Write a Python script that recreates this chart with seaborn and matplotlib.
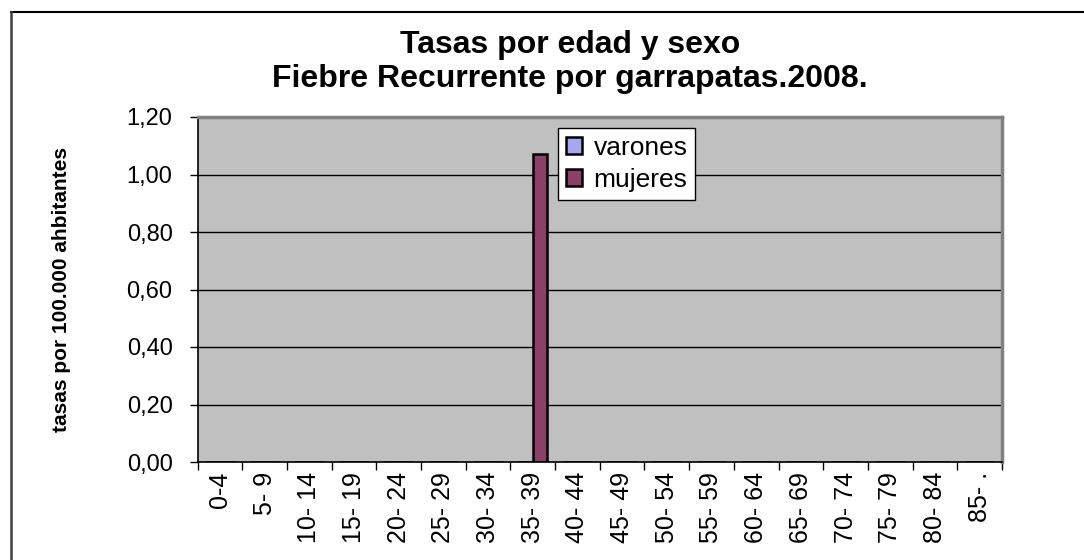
import matplotlib
matplotlib.use("Agg")
import matplotlib.pyplot as plt
from matplotlib.lines import Line2D
from matplotlib.ticker import FuncFormatter, FixedLocator
import pandas as pd
import seaborn as sns

# Datos
grupos_edad = ["0-4", "5- 9", "10- 14", "15- 19", "20- 24", "25- 29", "30- 34",
               "35- 39", "40- 44", "45- 49", "50- 54", "55- 59", "60- 64",
               "65- 69", "70- 74", "75- 79", "80- 84", "85- ."]
tasas_varones = [0, 0, 0, 0, 0, 0, 0, 0, 0, 0, 0, 0, 0, 0, 0, 0, 0, 0]
tasas_mujeres = [0, 0, 0, 0, 0, 0, 0, 1.07, 0, 0, 0, 0, 0, 0, 0, 0, 0, 0]
sexos = ["varones", "mujeres"]
colores = {"varones": "#9999FF", "mujeres": "#993366"}

df = pd.DataFrame({
    "edad": grupos_edad * 2,
    "tasa": tasas_varones + tasas_mujeres,
    "sexo": [sexos[0]] * len(grupos_edad) + [sexos[1]] * len(grupos_edad),
})

plt.rcParams["font.family"] = ["Liberation Sans", "DejaVu Sans"]

fig = plt.figure(figsize=(10.84, 5.6), dpi=100)
ax = fig.add_axes([197.5 / 1084, 1 - 462 / 560, (1002 - 197.5) / 1084, 345 / 560])
ax.set_facecolor("#C0C0C0")

sns.barplot(data=df, x="edad", y="tasa", hue="sexo", order=grupos_edad,
            hue_order=sexos, palette=colores, width=0.66, errorbar=None,
            edgecolor="black", linewidth=1.8, ax=ax)

ax.set_xlim(-0.5, len(grupos_edad) - 0.5)
ax.set_ylim(0, 1.2)
ax.set_yticks([0, 0.2, 0.4, 0.6, 0.8, 1.0, 1.2])
ax.yaxis.set_major_formatter(FuncFormatter(lambda v, p: f"{v:.2f}".replace(".", ",")))
ax.yaxis.grid(True, color="black", linewidth=1)
ax.set_axisbelow(True)

# marcas en los limites de cada categoria, etiquetas en el centro
ax.xaxis.set_minor_locator(FixedLocator([i - 0.5 for i in range(len(grupos_edad) + 1)]))
ax.tick_params(axis="x", which="major", length=0, pad=7, labelsize=18, labelrotation=90)
ax.tick_params(axis="x", which="minor", length=6, width=1, direction="out")
ax.tick_params(axis="y", length=6, width=1, pad=12, labelsize=17)
for lbl in ax.get_xticklabels():
    lbl.set_va("top")

for s in ["left", "bottom"]:
    ax.spines[s].set_color("black")
    ax.spines[s].set_linewidth(1.2)
for s in ["top", "right"]:
    ax.spines[s].set_color("#808080")
    ax.spines[s].set_linewidth(2.5)

ax.set_xlabel("")
ax.set_ylabel("tasas por 100.000 ahbitantes", fontsize=15, fontweight="bold", labelpad=40)

leg = ax.legend(loc="upper left", bbox_to_anchor=(0.448, 0.968), fontsize=19,
                frameon=True, fancybox=False, edgecolor="black", framealpha=1,
                borderaxespad=0, handlelength=0.6, handleheight=0.6,
                handletextpad=0.45, borderpad=0.3, labelspacing=0.3)
leg.get_frame().set_linewidth(1)
for h in leg.legend_handles:
    h.set_edgecolor("black")
    h.set_linewidth(1.8)

fig.text(0.526, 1 - 45 / 560, "Tasas por edad y sexo", ha="center", va="center",
         fontsize=23, fontweight="bold")
fig.text(0.526, 1 - 79 / 560, "Fiebre Recurrente por garrapatas.2008.", ha="center",
         va="center", fontsize=23, fontweight="bold")

# marco exterior del grafico
fig.add_artist(Line2D([11 / 1084, 1], [1 - 12 / 560, 1 - 12 / 560],
                      transform=fig.transFigure, color="black", linewidth=1.5))
fig.add_artist(Line2D([11 / 1084, 11 / 1084], [0, 1 - 12 / 560],
                      transform=fig.transFigure, color="#404040", linewidth=1.8))

fig.savefig("out.png", dpi=100)
